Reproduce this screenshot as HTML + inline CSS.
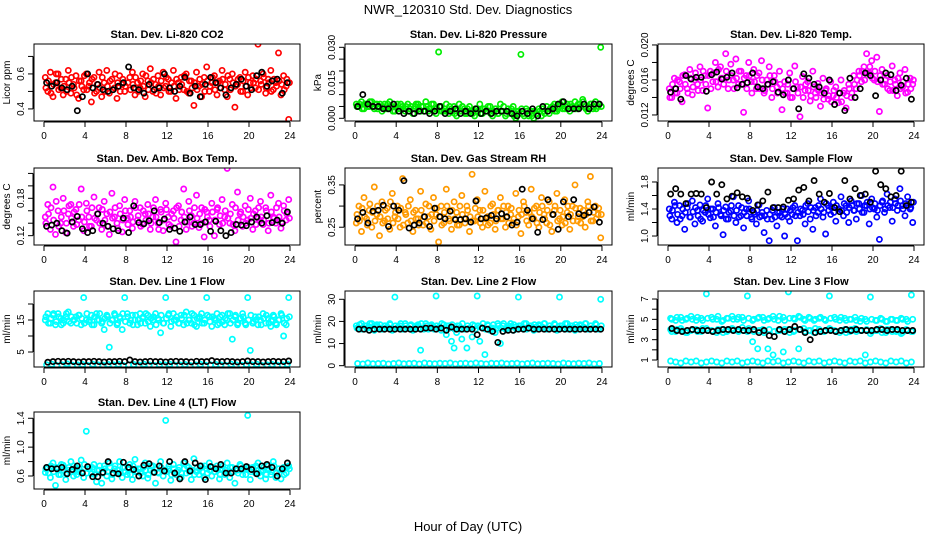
<!DOCTYPE html>
<html><head><meta charset="utf-8"><title>NWR_120310 Std. Dev. Diagnostics</title>
<style>
html,body{margin:0;padding:0;background:#fff;}
svg{display:block;font-family:"Liberation Sans",sans-serif;}
</style></head>
<body>
<svg id="chart" width="936" height="540" viewBox="0 0 936 540" xmlns="http://www.w3.org/2000/svg">
<text x="468" y="14" text-anchor="middle" font-size="13">NWR_120310  Std. Dev. Diagnostics</text>
<text x="468" y="531" text-anchor="middle" font-size="13">Hour of Day (UTC)</text>
</svg>
<script>
// ---- data (estimated from reference) ----
const xTicks = [0,4,8,12,16,20,24];

const co2Red = [0.58,0.50,0.61,0.47,0.55,0.60,0.52,0.48,0.57,0.62,0.49,0.54,0.59,0.46,0.56,0.51,0.60,0.53,0.44,0.58,0.50,0.61,0.47,0.55,0.62,0.49,0.57,0.52,0.46,0.59,0.54,0.50,0.31,0.58,0.61,0.48,0.55,0.52,0.60,0.47,0.56,0.63,0.50,0.54,0.59,0.48,0.61,0.53,0.57,0.50,0.62,0.46,0.55,0.58,0.51,0.60,0.49,0.56,0.42,0.61,0.53,0.47,0.58,0.64,0.50,0.55,0.59,0.48,0.56,0.62,0.51,0.47,0.57,0.60,0.41,0.54,0.58,0.50,0.61,0.48,0.55,0.59,0.52,0.77,0.56,0.60,0.49,0.57,0.62,0.51,0.55,0.72,0.48,0.59,0.53,0.34];
const co2Red2 = [0.52,0.56,0.49,0.54,0.60,0.51,0.57,0.53,0.50,0.55,0.58,0.52,0.48,0.56,0.53,0.59,0.51,0.55,0.57,0.49,0.54,0.52,0.58,0.50,0.53,0.56,0.51,0.60,0.55,0.50,0.57,0.53,0.55,0.51,0.54,0.58,0.50,0.56,0.53,0.59,0.51,0.55,0.57,0.49,0.53,0.56,0.52,0.58,0.50,0.55,0.53,0.57,0.51,0.54,0.59,0.50,0.56,0.52,0.55,0.51,0.57,0.54,0.50,0.56,0.53,0.58,0.51,0.55,0.52,0.57,0.54,0.59,0.51,0.55,0.53,0.57,0.50,0.56,0.53,0.58,0.52,0.55,0.57,0.51,0.54,0.58,0.52,0.55,0.50,0.57,0.53,0.56,0.54,0.51,0.57,0.55];
const co2Black = [0.55,0.53,0.55,0.52,0.51,0.53,0.39,0.47,0.60,0.52,0.54,0.51,0.50,0.51,0.53,0.55,0.64,0.52,0.51,0.49,0.54,0.51,0.52,0.60,0.52,0.50,0.53,0.58,0.49,0.53,0.47,0.54,0.58,0.55,0.52,0.48,0.52,0.54,0.57,0.53,0.51,0.59,0.61,0.53,0.56,0.57,0.49,0.55];

const presGreen = [0.006,0.005,0.007,0.004,0.006,0.005,0.007,0.004,0.006,0.005,0.003,0.006,0.004,0.007,0.005,0.003,0.006,0.004,0.005,0.003,0.006,0.004,0.002,0.005,0.006,0.003,0.005,0.007,0.003,0.004,0.006,0.002,0.028,0.005,0.003,0.006,0.002,0.004,0.005,0.001,0.006,0.003,0.004,0.002,0.005,0.003,0.001,0.004,0.006,0.002,0.004,0.003,0.005,0.001,0.004,0.002,0.006,0.003,0.001,0.004,0.002,0.005,0.000,0.003,0.027,0.002,0.004,0.001,0.003,0.000,0.002,0.004,0.001,0.003,0.005,0.002,0.004,0.006,0.003,0.005,0.007,0.004,0.006,0.003,0.005,0.007,0.004,0.006,0.008,0.005,0.003,0.006,0.004,0.007,0.005,0.030];
const presGreen2 = [0.005,0.006,0.004,0.006,0.005,0.007,0.005,0.006,0.004,0.006,0.005,0.004,0.006,0.005,0.003,0.005,0.004,0.006,0.004,0.005,0.003,0.005,0.004,0.006,0.004,0.005,0.003,0.005,0.004,0.006,0.003,0.004,0.005,0.003,0.004,0.003,0.005,0.003,0.002,0.004,0.003,0.005,0.002,0.004,0.003,0.002,0.004,0.003,0.002,0.004,0.003,0.005,0.002,0.003,0.004,0.002,0.003,0.005,0.002,0.003,0.004,0.001,0.003,0.002,0.004,0.001,0.003,0.002,0.001,0.003,0.002,0.003,0.004,0.002,0.003,0.004,0.005,0.003,0.004,0.006,0.004,0.005,0.004,0.006,0.005,0.004,0.006,0.005,0.007,0.004,0.005,0.006,0.005,0.004,0.006,0.005];
const presBlack = [0.005,0.010,0.006,0.005,0.005,0.004,0.004,0.006,0.003,0.002,0.003,0.002,0.003,0.003,0.002,0.003,0.005,0.002,0.003,0.004,0.002,0.003,0.002,0.004,0.002,0.003,0.002,0.003,0.003,0.003,0.002,0.001,0.003,0.002,0.004,0.001,0.005,0.003,0.004,0.006,0.007,0.004,0.004,0.004,0.006,0.004,0.006,0.006];

const liTempMag = [0.0150,0.0140,0.0162,0.0145,0.0158,0.0135,0.0166,0.0150,0.0172,0.0143,0.0160,0.0155,0.0175,0.0148,0.0165,0.0128,0.0170,0.0158,0.0180,0.0152,0.0175,0.0162,0.0190,0.0150,0.0178,0.0160,0.0184,0.0155,0.0170,0.0123,0.0165,0.0180,0.0158,0.0172,0.0150,0.0168,0.0182,0.0145,0.0160,0.0175,0.0140,0.0165,0.0152,0.0170,0.0126,0.0158,0.0145,0.0168,0.0140,0.0176,0.0152,0.0118,0.0164,0.0148,0.0158,0.0136,0.0170,0.0145,0.0156,0.0130,0.0162,0.0148,0.0138,0.0158,0.0142,0.0152,0.0134,0.0160,0.0145,0.0128,0.0155,0.0140,0.0165,0.0150,0.0170,0.0158,0.0175,0.0190,0.0168,0.0182,0.0160,0.0186,0.0124,0.0172,0.0155,0.0165,0.0148,0.0176,0.0160,0.0142,0.0168,0.0152,0.0172,0.0146,0.0162,0.0155];
const liTempMag2 = [0.0140,0.0155,0.0145,0.0160,0.0150,0.0165,0.0155,0.0145,0.0162,0.0152,0.0168,0.0148,0.0160,0.0170,0.0155,0.0165,0.0150,0.0168,0.0158,0.0172,0.0162,0.0155,0.0170,0.0160,0.0165,0.0150,0.0162,0.0170,0.0155,0.0162,0.0150,0.0165,0.0145,0.0158,0.0165,0.0150,0.0160,0.0148,0.0155,0.0165,0.0150,0.0158,0.0145,0.0155,0.0150,0.0145,0.0155,0.0140,0.0150,0.0158,0.0145,0.0152,0.0140,0.0155,0.0148,0.0142,0.0152,0.0140,0.0148,0.0145,0.0138,0.0150,0.0142,0.0135,0.0148,0.0140,0.0145,0.0135,0.0148,0.0142,0.0150,0.0145,0.0155,0.0160,0.0165,0.0170,0.0160,0.0168,0.0175,0.0162,0.0170,0.0158,0.0165,0.0155,0.0160,0.0150,0.0158,0.0148,0.0155,0.0162,0.0150,0.0158,0.0145,0.0155,0.0150,0.0160];
const liTempBlack = [0.0146,0.0150,0.0138,0.0165,0.0161,0.0163,0.0163,0.0147,0.0166,0.0169,0.0161,0.0163,0.0168,0.0151,0.0155,0.0157,0.0168,0.0152,0.0150,0.0155,0.0158,0.0146,0.0143,0.0160,0.0150,0.0127,0.0167,0.0162,0.0155,0.0152,0.0145,0.0160,0.0132,0.0145,0.0125,0.0162,0.0140,0.0150,0.0168,0.0165,0.0142,0.0160,0.0168,0.0166,0.0148,0.0154,0.0162,0.0138];

const ambMag = [0.150,0.170,0.130,0.198,0.122,0.160,0.140,0.180,0.125,0.155,0.170,0.135,0.162,0.145,0.195,0.128,0.172,0.150,0.135,0.182,0.145,0.165,0.130,0.175,0.155,0.122,0.188,0.150,0.140,0.168,0.126,0.178,0.148,0.160,0.132,0.175,0.145,0.165,0.138,0.155,0.170,0.130,0.150,0.178,0.140,0.162,0.128,0.172,0.150,0.135,0.160,0.110,0.168,0.145,0.195,0.130,0.175,0.152,0.140,0.185,0.133,0.165,0.118,0.158,0.145,0.172,0.120,0.162,0.138,0.178,0.150,0.228,0.140,0.170,0.128,0.190,0.155,0.135,0.168,0.145,0.180,0.130,0.160,0.148,0.175,0.138,0.165,0.128,0.185,0.150,0.140,0.172,0.132,0.168,0.145,0.178];
const ambMag2 = [0.140,0.155,0.165,0.145,0.175,0.135,0.150,0.160,0.140,0.168,0.148,0.158,0.138,0.170,0.150,0.142,0.160,0.135,0.165,0.148,0.155,0.140,0.162,0.145,0.135,0.158,0.148,0.165,0.132,0.155,0.145,0.160,0.138,0.150,0.142,0.165,0.152,0.135,0.160,0.145,0.155,0.140,0.165,0.150,0.130,0.158,0.145,0.162,0.138,0.155,0.148,0.165,0.135,0.158,0.150,0.142,0.160,0.135,0.165,0.148,0.155,0.140,0.162,0.150,0.135,0.158,0.145,0.165,0.152,0.140,0.160,0.148,0.155,0.138,0.165,0.145,0.158,0.150,0.140,0.162,0.148,0.155,0.138,0.165,0.150,0.145,0.160,0.140,0.158,0.148,0.165,0.150,0.142,0.160,0.155,0.148];
const ambBlack = [0.135,0.137,0.140,0.128,0.124,0.142,0.151,0.131,0.125,0.128,0.155,0.140,0.135,0.131,0.128,0.148,0.125,0.168,0.141,0.139,0.144,0.160,0.141,0.147,0.130,0.132,0.127,0.142,0.150,0.138,0.138,0.142,0.127,0.143,0.128,0.120,0.125,0.138,0.137,0.136,0.142,0.150,0.140,0.152,0.141,0.145,0.140,0.158];

const rhOrange = [0.260,0.300,0.240,0.320,0.270,0.290,0.250,0.345,0.280,0.230,0.310,0.265,0.295,0.245,0.330,0.275,0.300,0.250,0.365,0.285,0.260,0.315,0.240,0.290,0.270,0.335,0.255,0.305,0.275,0.245,0.320,0.280,0.215,0.300,0.260,0.340,0.270,0.245,0.310,0.285,0.255,0.325,0.270,0.300,0.240,0.375,0.265,0.315,0.290,0.250,0.335,0.275,0.260,0.305,0.245,0.290,0.320,0.270,0.250,0.300,0.280,0.260,0.330,0.275,0.235,0.310,0.285,0.255,0.340,0.270,0.300,0.250,0.320,0.280,0.260,0.310,0.240,0.290,0.330,0.270,0.255,0.315,0.285,0.245,0.300,0.350,0.265,0.295,0.275,0.250,0.310,0.370,0.265,0.300,0.280,0.225];
const rhOrange2 = [0.280,0.265,0.295,0.275,0.255,0.305,0.285,0.265,0.300,0.275,0.260,0.290,0.270,0.310,0.260,0.285,0.270,0.295,0.255,0.280,0.300,0.265,0.285,0.270,0.255,0.290,0.275,0.260,0.300,0.280,0.265,0.295,0.275,0.255,0.285,0.300,0.265,0.290,0.270,0.255,0.300,0.280,0.260,0.290,0.275,0.265,0.295,0.275,0.260,0.290,0.270,0.255,0.300,0.280,0.265,0.290,0.270,0.300,0.285,0.260,0.295,0.270,0.255,0.290,0.280,0.300,0.265,0.285,0.275,0.295,0.260,0.285,0.300,0.270,0.290,0.255,0.280,0.300,0.265,0.290,0.275,0.260,0.300,0.280,0.265,0.295,0.275,0.260,0.290,0.280,0.300,0.265,0.285,0.270,0.295,0.280];
const rhBlack = [0.270,0.285,0.260,0.288,0.290,0.302,0.252,0.300,0.290,0.360,0.248,0.255,0.260,0.275,0.252,0.295,0.275,0.270,0.288,0.268,0.268,0.270,0.262,0.312,0.270,0.272,0.278,0.270,0.282,0.275,0.255,0.262,0.340,0.290,0.270,0.238,0.268,0.315,0.280,0.245,0.310,0.275,0.315,0.282,0.278,0.285,0.298,0.262];

const flowBlue = [1.40,1.25,1.50,1.20,1.45,1.30,1.10,1.42,1.28,1.52,1.18,1.38,1.46,1.22,1.35,1.55,1.27,1.40,1.15,1.48,1.32,1.02,1.43,1.25,1.37,1.58,1.20,1.45,1.30,1.12,1.40,1.52,1.28,1.35,1.18,1.46,1.30,1.05,1.38,0.93,1.25,1.42,1.15,1.35,1.28,1.00,1.40,1.22,1.32,1.45,0.93,1.30,1.38,1.18,1.48,1.25,1.10,1.42,1.35,1.55,1.28,1.03,1.45,1.32,1.50,1.22,1.40,1.58,1.30,1.45,1.20,1.52,1.38,1.25,1.48,1.60,1.35,1.45,1.18,1.55,1.40,1.28,0.95,1.50,1.35,1.62,1.42,1.22,1.55,1.38,1.70,1.45,1.30,1.58,1.40,1.20];
const flowBlue2 = [1.30,1.38,1.45,1.32,1.25,1.40,1.35,1.48,1.28,1.36,1.42,1.30,1.25,1.38,1.45,1.32,1.40,1.28,1.35,1.42,1.30,1.38,1.25,1.35,1.45,1.30,1.38,1.28,1.42,1.35,1.30,1.40,1.25,1.32,1.38,1.28,1.35,1.30,1.25,1.32,1.38,1.28,1.35,1.30,1.40,1.32,1.28,1.38,1.42,1.30,1.35,1.40,1.32,1.45,1.36,1.42,1.38,1.30,1.45,1.40,1.35,1.48,1.38,1.42,1.35,1.45,1.40,1.38,1.48,1.35,1.42,1.45,1.38,1.48,1.40,1.35,1.45,1.50,1.40,1.42,1.48,1.38,1.45,1.52,1.40,1.45,1.50,1.42,1.48,1.45,1.52,1.40,1.48,1.45,1.42,1.50];
const flowBlack = [1.62,1.70,1.62,1.48,1.62,1.63,1.62,1.42,1.80,1.62,1.76,1.55,1.59,1.64,1.58,1.56,1.38,1.46,1.52,1.65,1.42,1.42,1.43,1.53,1.55,1.68,1.72,1.52,1.82,1.62,1.50,1.63,1.42,1.36,1.82,1.55,1.70,1.60,1.62,1.50,1.96,1.76,1.70,1.58,1.60,1.96,1.45,1.50];

const l1Upper = [15,17,14,16.5,13.5,17,15.5,14,16,17.5,14,15,16,16.5,13.5,22,15,14.5,16.5,13.5,17,15,14,12,16.5,6.5,15,17,13.5,16,12,22,17,14,16.5,15,13.5,17,15.5,14,16.5,13,15,17,15.5,11,14,22,16.5,13,17,15,14,16.5,13.5,17.5,15,14,16.5,13,15.5,17,14,22,16,13,15.5,17,14,16.5,13.5,15,17,9,16,13.5,15.5,17,14,22,5.5,14,16,13.5,15,17,14,15.5,13,16.5,14,15,17,10,13.5,22];
const l1Upper2 = [16,14,15.5,17,14.5,16,13.5,15,17,14.5,16,15,14,16.5,15.5,14,17,15,13.5,16,15,17,14.5,15.5,16,14,15,16.5,14,15.5,17,14.5,16,15,13.5,16.5,15,14,16,17,14.5,15.5,16,13.5,15,16.5,14,15.5,17,14.5,15,16,14,15.5,16.5,14,15,17,13.5,15.5,16,14,15,16.5,14.5,16,15,13.5,16,14.5,15.5,17,14,15,16.5,14,15.5,16,13.5,15,16.5,14.5,15,16,13.5,15.5,16.5,14,15,16,13.5,15,16.5,14,15.5,16];
const l1Lower = [1,1.2,0.8,1,1.3,0.9,1,1.1,0.8,1.2,1,0.9,1.1,1,1.2,0.8,1,1.1,0.9,1.2,1,0.8,1.1,1,1.2,0.9,1,1.1,0.8,1,1.2,0.9,1,1.1,1,0.8,1.2,1,0.9,1.1,1,1.2,0.8,1,1.1,0.9,1,1.2];
const l1Black = [1.8,2,2.1,2,2.1,2,1.9,2,2,2.1,2,1.9,2,2,2.1,2,2.5,2,1.9,2,2.1,2,2,1.9,2,2.1,2,2,1.9,2.1,2,2,2.3,2,2,2.1,2,1.9,2,2.2,2,2,1.9,2,2.1,2,2,2.2];

const l2Upper = [18,17,19,16.5,18,17.5,19,16,18.5,17,16.5,18,17.5,19,16,31,17,18,16.5,19,17,18,16,17.5,18.5,7,17,19,16.5,18,17.5,31.5,17,16,18.5,14,18,11,8,15,18,12,16.5,8,17,13,18,31.5,11,17,5,18.5,16,17,15,19,10,18,16.5,17,19,16,17.5,31,18,16.5,19,17,18,16,17.5,18.5,17,19,16.5,18,17,19,16,31,18,16.5,19,17,18,16,17.5,18.5,17,19,16.5,18,17,19,16.5,30];
const l2Upper2 = [17,18.5,16.5,18,17,19,16.5,18,17.5,18.5,16.5,18,17,18.5,16.5,18,17.5,19,16.5,18,17,18.5,16.5,18,17,19,16.5,18,17,18.5,16.5,18,17.5,19,16.5,18,17,18.5,16.5,18,17,19,16.5,18,17,18.5,16.5,18,17.5,19,16.5,18,17,18.5,16.5,18,17,19,16.5,18,17.5,18.5,16.5,18,17,19,16.5,18,17,18.5,16.5,18,17.5,19,16.5,18,17,18.5,16.5,18,17,19,16.5,18,17,18.5,16.5,18,17.5,19,16.5,18,17,18.5,16.5,18];
const l2Lower = [1,0.8,1.2,0.9,1,1.1,0.8,1,1.2,0.9,1,1.1,0.8,1.2,1,0.9,1.1,1,1.2,0.8,1,1.1,0.9,1.2,1,0.8,1.1,1,1.2,0.9,1,1.1,0.8,1,1.2,0.9,1,1.1,1,0.8,1.2,1,0.9,1.1,1,1.2,0.8,1];
const l2Black = [16.5,16.5,16,16.5,16.5,16.5,16.5,16.5,16.5,16.5,16.5,16.5,16.5,17,17,16.5,17,16,17.5,16.5,16.5,16.5,16.5,14,17,16.5,15.5,10.5,15.5,16,16,16.5,16.5,17,16.5,16.5,16.5,16.5,16.5,16.5,16.5,16.5,16.5,16.5,16.5,16.5,16.5,16.5];

const l3Upper = [5.1,4.9,5.2,5.0,5.3,4.9,5.1,7.5,5.2,5.0,4.8,5.1,5.3,5.0,5.2,7.3,4.9,5.1,5.2,5.0,5.3,4.9,5.2,7.7,5.1,5.3,5.0,5.2,4.9,5.1,5.0,7.3,5.2,4.9,5.1,5.0,5.2,4.8,5.0,7.2,4.9,5.1,4.8,5.0,4.9,5.1,5.0,7.4];
const l3Upper2 = [5.0,5.2,4.9,5.1,5.0,5.2,4.9,5.1,5.0,5.3,4.9,5.1,5.0,5.2,4.9,5.1,5.0,5.2,4.9,5.1,5.0,5.3,4.9,5.1,5.0,5.2,4.9,5.1,5.0,5.2,4.9,5.1,5.0,5.2,4.9,5.0,4.9,5.1,4.8,5.0,4.9,5.0,4.8,5.0,4.9,5.0,4.8,5.0];
const l3Mid = [4.0,3.8,4.1,3.7,3.9,4.0,3.8,4.1,3.9,3.7,4.0,3.8,4.1,3.9,4.2,3.8,2.8,2.1,4.0,2.1,1.5,3.9,1.8,4.0,3.8,2.1,4.1,3.9,3.7,4.0,3.8,4.1,3.9,3.7,4.0,3.8,4.1,3.9,1.5,3.6,3.9,4.1,3.7,4.0,3.8,3.6,4.0,3.8];
const l3Mid2 = [3.8,4.0,3.9,3.7,4.0,3.8,4.1,3.9,3.8,4.0,3.7,3.9,4.0,3.8,3.9,4.1,3.8,3.9,3.7,4.0,3.8,3.9,4.0,3.7,3.9,4.0,3.8,3.9,4.1,3.8,3.9,4.0,3.8,3.9,3.7,4.0,3.8,3.9,4.0,3.8,3.9,3.7,4.0,3.8,3.9,3.7,3.9,3.8];
const l3Lower = [0.9,0.8,0.7,0.9,0.8,0.9,0.7,0.8,0.9,0.8,0.7,0.9,0.8,0.9,0.7,0.8,0.9,0.8,0.7,0.9,0.8,0.9,0.7,0.8,0.9,0.8,0.7,0.9,0.8,0.9,0.7,0.8,0.9,0.8,0.7,0.9,0.8,0.9,0.7,0.8,0.9,0.8,0.7,0.9,0.8,0.9,0.7,0.8];
const l3Black = [4.1,3.9,3.8,3.9,4.0,3.9,3.9,3.9,3.8,3.9,4.0,4.0,3.9,4.0,3.9,3.9,4.0,3.7,3.9,3.4,3.3,4.0,3.8,4.0,4.3,4.0,3.7,3.0,3.7,3.8,3.9,3.9,3.8,3.9,4.0,3.9,4.0,3.9,3.9,3.9,4.0,4.0,3.9,4.0,4.0,3.9,3.9,3.9];

const l4Cyan = [0.65,0.72,0.58,0.78,0.47,0.70,0.62,0.75,0.55,0.68,0.80,0.60,0.72,0.66,0.82,0.58,1.22,0.70,0.63,0.76,0.52,0.68,0.50,0.74,0.60,0.78,0.56,0.70,0.64,0.80,0.58,0.72,0.62,0.76,0.55,0.83,0.66,0.70,0.60,0.78,0.57,0.68,0.74,0.50,0.65,0.80,0.60,1.37,0.70,0.54,0.76,0.62,0.68,0.58,0.78,0.64,0.72,0.55,0.84,0.66,0.62,0.74,0.58,0.70,0.78,0.60,0.66,0.74,0.56,0.70,0.62,0.78,0.58,0.72,0.50,0.68,0.76,0.62,0.70,1.44,0.55,0.72,0.64,0.78,0.60,0.68,0.56,0.74,0.62,0.80,0.58,0.70,0.56,0.72,0.64,0.74];
const l4Cyan2 = [0.70,0.64,0.74,0.66,0.72,0.62,0.76,0.68,0.64,0.72,0.66,0.74,0.62,0.70,0.66,0.76,0.64,0.70,0.72,0.62,0.68,0.74,0.64,0.70,0.66,0.72,0.62,0.74,0.68,0.64,0.72,0.66,0.70,0.62,0.74,0.66,0.70,0.64,0.72,0.68,0.62,0.74,0.66,0.70,0.64,0.72,0.68,0.66,0.74,0.62,0.70,0.66,0.72,0.64,0.70,0.74,0.66,0.68,0.62,0.72,0.70,0.66,0.74,0.64,0.68,0.72,0.66,0.70,0.62,0.74,0.68,0.64,0.72,0.66,0.70,0.64,0.74,0.68,0.62,0.72,0.66,0.70,0.74,0.64,0.68,0.72,0.62,0.70,0.66,0.74,0.64,0.70,0.68,0.62,0.72,0.70];
const l4Black = [0.72,0.70,0.70,0.72,0.63,0.69,0.74,0.64,0.73,0.59,0.59,0.65,0.80,0.64,0.63,0.79,0.72,0.69,0.60,0.75,0.77,0.65,0.74,0.67,0.80,0.64,0.56,0.80,0.67,0.78,0.74,0.55,0.73,0.70,0.76,0.64,0.64,0.70,0.70,0.73,0.69,0.63,0.74,0.76,0.72,0.60,0.70,0.78];

// ---- layout ----
const NS = "http://www.w3.org/2000/svg";
const svg = document.getElementById('chart');
const cols = [{l:34,r:300},{l:345,r:612},{l:658,r:924}];
const rows = [{t:44,b:121},{t:168,b:245},{t:291,b:367},{t:412,b:489}];

const panels = [
 {name:'co2',title:'Stan. Dev. Li-820 CO2',ylab:'Licor ppm',c:0,r:0,y0:0.331,y1:0.771,ticks:[0.4,0.5,0.6,0.7],labels:[0.4,0.6],fmt:1,series:[[co2Red,'#ff0000'],[co2Red2,'#ff0000'],[co2Black,'#000000']]},
 {name:'pressure',title:'Stan. Dev. Li-820 Pressure',ylab:'kPa',c:1,r:0,y0:-0.00114,y1:0.0314,ticks:[0,0.005,0.01,0.015,0.02,0.025,0.03],labels:[0,0.015,0.03],fmt:3,series:[[presGreen,'#00ee00'],[presGreen2,'#00ee00'],[presBlack,'#000000']]},
 {name:'li-temp',title:'Stan. Dev. Li-820 Temp.',ylab:'degrees C',c:2,r:0,y0:0.01131,y1:0.02011,ticks:[0.012,0.014,0.016,0.018,0.02],labels:[0.012,0.016,0.02],fmt:3,series:[[liTempMag,'#ff00ff'],[liTempMag2,'#ff00ff'],[liTempBlack,'#000000']]},
 {name:'amb-temp',title:'Stan. Dev. Amb. Box Temp.',ylab:'degrees C',c:0,r:1,y0:0.105,y1:0.2287,ticks:[0.12,0.14,0.16,0.18,0.2,0.22],labels:[0.12,0.18],fmt:2,series:[[ambMag,'#ff00ff'],[ambMag2,'#ff00ff'],[ambBlack,'#000000']]},
 {name:'rh',title:'Stan. Dev. Gas Stream RH',ylab:'percent',c:1,r:1,y0:0.208,y1:0.390,ticks:[0.25,0.30,0.35],labels:[0.25,0.35],fmt:2,series:[[rhOrange,'#ff9a00'],[rhOrange2,'#ff9a00'],[rhBlack,'#000000']]},
 {name:'sample-flow',title:'Stan. Dev. Sample Flow',ylab:'ml/min',c:2,r:1,y0:0.867,y1:2.007,ticks:[1.0,1.2,1.4,1.6,1.8],labels:[1.0,1.4,1.8],fmt:1,series:[[flowBlue,'#0000ff'],[flowBlue2,'#0000ff'],[flowBlack,'#000000']]},
 {name:'line1',title:'Stan. Dev. Line 1 Flow',ylab:'ml/min',c:0,r:2,y0:0.31,y1:24.06,ticks:[5,10,15,20],labels:[5,15],fmt:0,series:[[l1Upper,'#00ffff'],[l1Upper2,'#00ffff'],[l1Lower,'#00ffff'],[l1Black,'#000000']]},
 {name:'line2',title:'Stan. Dev. Line 2 Flow',ylab:'ml/min',c:1,r:2,y0:-0.6,y1:33.75,ticks:[0,10,20,30],labels:[0,10,20,30],fmt:0,series:[[l2Upper,'#00ffff'],[l2Upper2,'#00ffff'],[l2Lower,'#00ffff'],[l2Black,'#000000']]},
 {name:'line3',title:'Stan. Dev. Line 3 Flow',ylab:'ml/min',c:2,r:2,y0:0.31,y1:7.79,ticks:[1,2,3,4,5,6,7],labels:[1,3,5,7],fmt:0,series:[[l3Upper,'#00ffff'],[l3Upper2,'#00ffff'],[l3Mid,'#00ffff'],[l3Mid2,'#00ffff'],[l3Lower,'#00ffff'],[l3Black,'#000000']]},
 {name:'line4',title:'Stan. Dev. Line 4 (LT) Flow',ylab:'ml/min',c:0,r:3,y0:0.42,y1:1.487,ticks:[0.6,0.8,1.0,1.2,1.4],labels:[0.6,1.0,1.4],fmt:1,series:[[l4Cyan,'#00ffff'],[l4Cyan2,'#00ffff'],[l4Black,'#000000']]}
];

function mk(tag, attrs, parent){
  const e = document.createElementNS(NS, tag);
  for (const k in attrs) e.setAttribute(k, attrs[k]);
  (parent||svg).appendChild(e);
  return e;
}

panels.forEach(p => {
  const col = cols[p.c], row = rows[p.r];
  const w = col.r - col.l, h = row.b - row.t;
  const xs = v => col.l + w*0.0376 + (v/24)*w*0.9248;
  const ys = v => row.b - (v - p.y0)/(p.y1 - p.y0)*h;
  const g = mk('g', {});
  
  

  const clip = mk('clipPath', {id:'clip-'+p.name}, g);
  mk('rect', {x:col.l, y:row.t, width:w, height:h}, clip);
  const pts = mk('g', {'clip-path':'url(#clip-'+p.name+')'}, g);
  
  
  p.series.forEach(([vals, color], si) => {
    const n = vals.length;
    const shift = (si % 2) ? 0.5 : 0;
    vals.forEach((v, i) => {
      const c = mk('circle', {cx:xs(Math.min(24,(i+0.5+shift*0.5)*24/n)).toFixed(1), cy:ys(v).toFixed(1), r:2.6, fill:'none', stroke:color, 'stroke-width':1.7}, pts);
      
      
    });
  });

  const box = mk('rect', {x:col.l, y:row.t, width:w, height:h, fill:'none', stroke:'#000', 'stroke-width':1}, g);
  
  

  const title = mk('text', {x:(col.l+col.r)/2, y:row.t-6, 'text-anchor':'middle', 'font-size':11, 'font-weight':'bold'}, g);
  title.textContent = p.title;
  
  

  const xa = mk('g', {}, g);
  
  
  mk('line', {x1:xs(0), x2:xs(24), y1:row.b+1, y2:row.b+1, stroke:'#000'}, xa);
  xTicks.forEach(t => {
    mk('line', {x1:xs(t), x2:xs(t), y1:row.b+1, y2:row.b+6, stroke:'#000'}, xa);
    const lb = mk('text', {x:xs(t), y:row.b+18, 'text-anchor':'middle', 'font-size':10}, xa);
    lb.textContent = t;
    
    
  });

  const ya = mk('g', {}, g);
  
  
  const tv = p.ticks;
  mk('line', {x1:col.l-1, x2:col.l-1, y1:ys(tv[0]), y2:ys(tv[tv.length-1]), stroke:'#000'}, ya);
  tv.forEach(t => {
    mk('line', {x1:col.l-6, x2:col.l-1, y1:ys(t), y2:ys(t), stroke:'#000'}, ya);
  });
  p.labels.forEach(t => {
    const y = ys(t);
    const lb = mk('text', {x:col.l-10, y:y, 'text-anchor':'middle', 'font-size':10, transform:'rotate(-90 '+(col.l-10)+' '+y+')'}, ya);
    lb.textContent = t.toFixed(p.fmt);
    
    
  });
  const ym = (row.t+row.b)/2;
  const yt = mk('text', {x:col.l-24, y:ym, 'text-anchor':'middle', 'font-size':10, transform:'rotate(-90 '+(col.l-24)+' '+ym+')'}, ya);
  yt.textContent = p.ylab;
  
  
});
</script>
</body></html>
